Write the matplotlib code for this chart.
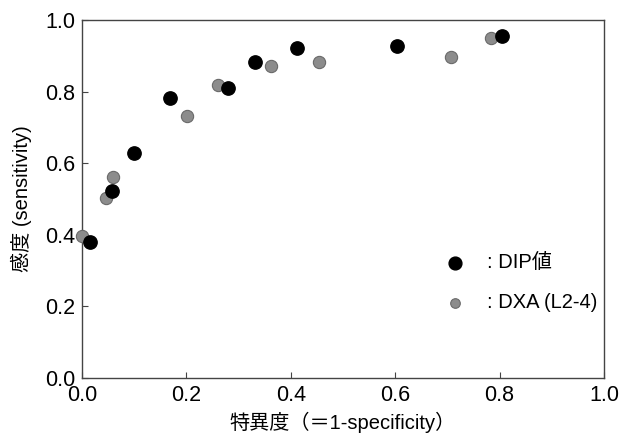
import matplotlib
matplotlib.use('Agg')
import matplotlib.pyplot as plt

plt.rcParams['font.family'] = ['Liberation Sans', 'Noto Sans CJK JP', 'DejaVu Sans']

# DIP values (black)
dip_x = [0.015, 0.057, 0.10, 0.169, 0.28, 0.332, 0.412, 0.603, 0.804]
dip_y = [0.38, 0.522, 0.629, 0.783, 0.81, 0.882, 0.921, 0.928, 0.956]

# DXA (L2-4) (gray)
dxa_x = [0.0, 0.046, 0.059, 0.201, 0.26, 0.362, 0.454, 0.706, 0.784]
dxa_y = [0.397, 0.502, 0.561, 0.731, 0.82, 0.871, 0.882, 0.896, 0.951]

ticks = [0.0, 0.2, 0.4, 0.6, 0.8, 1.0]

fig = plt.figure(figsize=(6.22, 4.37), dpi=100)
ax = fig.add_axes([0.132, 0.135, 0.839, 0.819])

ax.scatter(dxa_x, dxa_y, s=78, color='#8c8c8c', edgecolor='#6a6a6a', linewidth=0.8, zorder=3, clip_on=False)
ax.scatter(dip_x, dip_y, s=92, color='black', zorder=4, clip_on=False)

# hand-drawn legend inside the axes
ax.scatter([0.715], [0.322], s=85, color='black')
ax.scatter([0.715], [0.21], s=48, color='#8c8c8c', edgecolor='#6a6a6a', linewidth=0.8)
ax.text(0.775, 0.322, ': DIP値', fontsize=14.5, va='center', ha='left')
ax.text(0.775, 0.21, ': DXA (L2-4)', fontsize=14.5, va='center', ha='left')

ax.set_xlim(0, 1.0)
ax.set_ylim(0, 1.0)
ax.set_xticks(ticks)
ax.set_yticks(ticks)
ax.set_xticklabels([f'{t:.1f}' for t in ticks])
ax.set_yticklabels([f'{t:.1f}' for t in ticks])
ax.tick_params(direction='in', length=4, width=0.8, labelsize=15.5, color='#444444')
ax.tick_params(axis='x', pad=5)
ax.tick_params(axis='y', pad=5)

for sp in ax.spines.values():
    sp.set_color('#444444')
    sp.set_linewidth(1.0)

ax.set_xlabel('特異度（＝1-specificity）', fontsize=14.5, labelpad=4)
ax.set_ylabel('感度 (sensitivity)', fontsize=14.5, labelpad=9)

fig.savefig('out.png', dpi=100)
